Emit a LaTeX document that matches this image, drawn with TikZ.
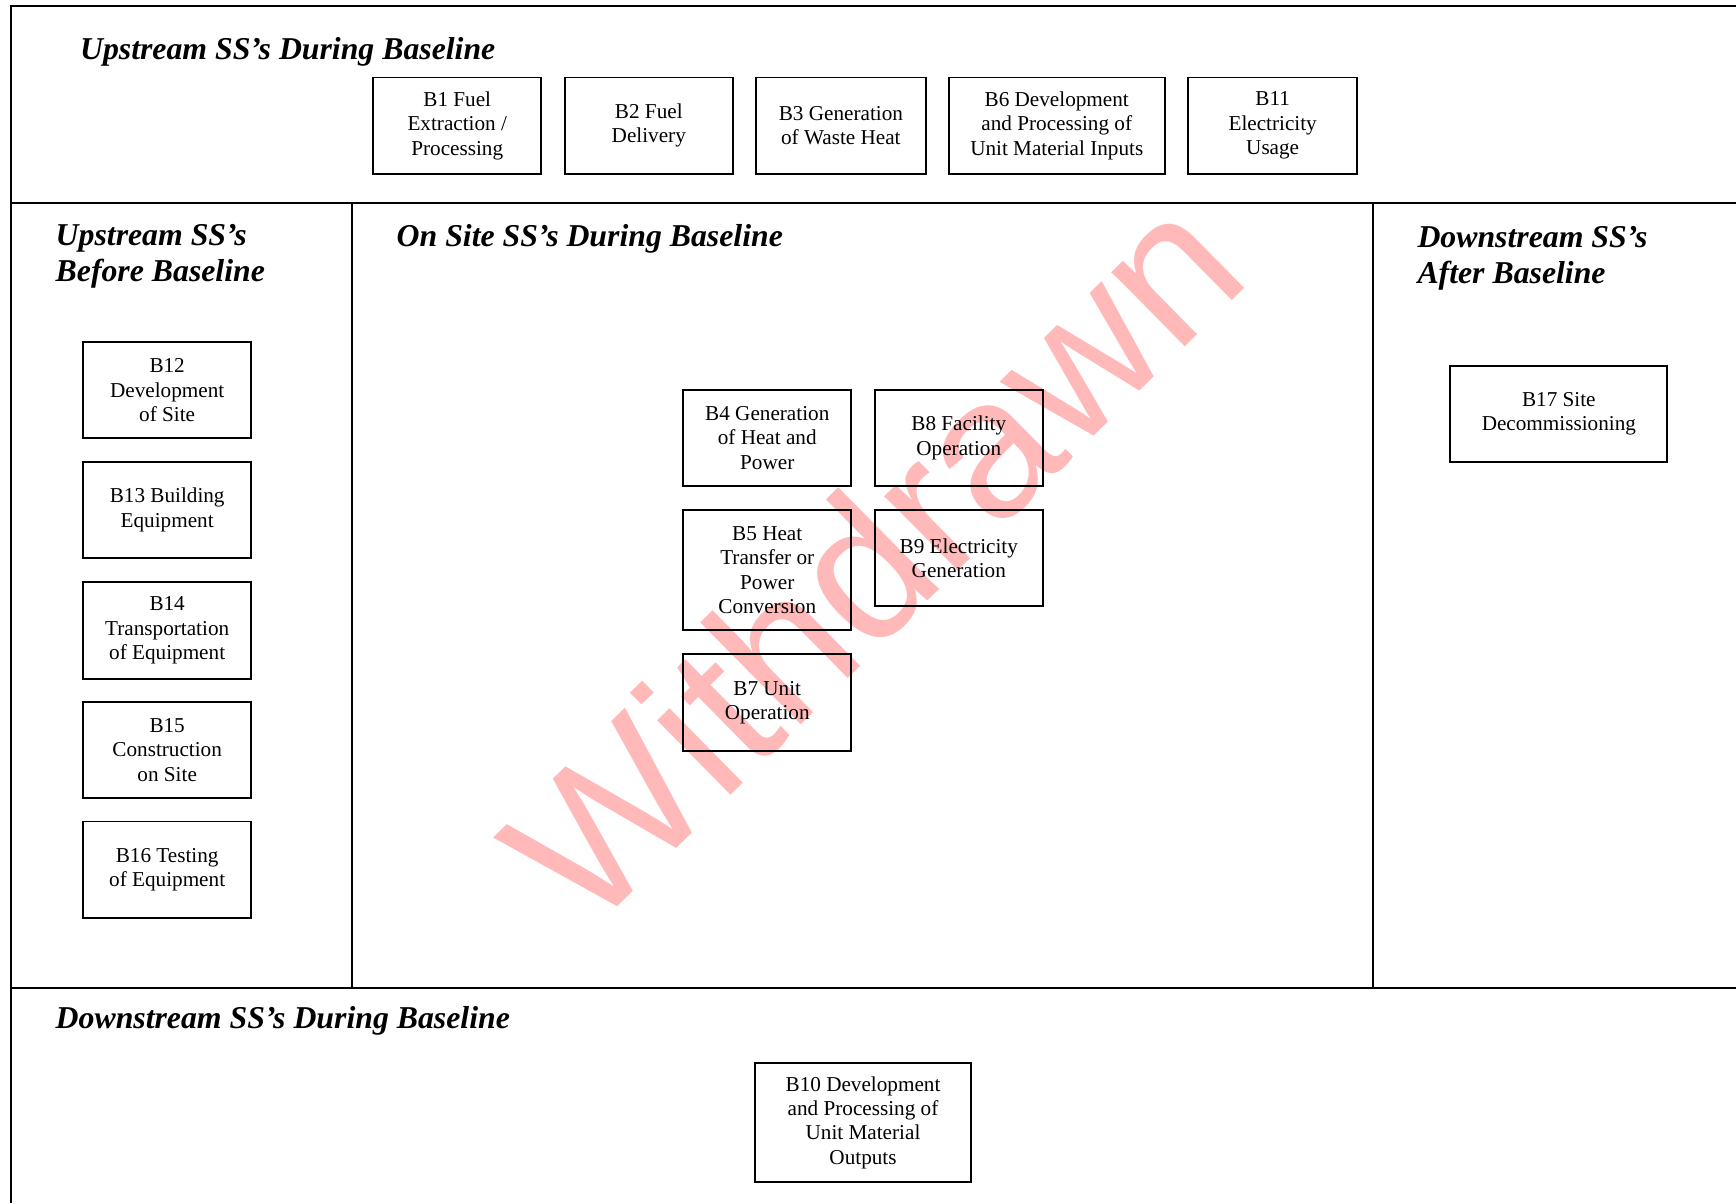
\documentclass[tikz,border=0pt]{standalone}
\usepackage{fontspec}
\setmainfont{Liberation Serif}
\setsansfont{Liberation Sans}
\definecolor{wm}{RGB}{255,185,185}
\def\u{0.627pt}
\tikzset{
  bbox/.style={draw, line width=1.1pt, align=center, inner sep=0pt,
    font=\fontsize{12}{13.8}\selectfont},
  ttl/.style={anchor=base west, inner sep=0pt, align=left,
    font=\fontsize{18}{20.9}\selectfont\bfseries\itshape},
  frame/.style={line width=1.1pt},
  thin/.style={line width=0.8pt}
}
\begin{document}
\begin{tikzpicture}[x=0.627pt, y=-0.627pt]
\useasboundingbox (0,0) rectangle (1568,1087);
% frame lines
\draw[frame] (1568,5) -- (10,5) -- (10,1087);
\draw[frame] (10,183) -- (1568,183);
\draw[thin] (318,183) -- (318,892);
\draw[frame] (1240,183) -- (1240,892);
\draw[frame] (10,892) -- (1568,892);
% watermark
\node[rotate=44.6, text=wm, inner sep=0pt, font=\sffamily\fontsize{112}{112}\selectfont] (wmark) at (787,503) {Withdrawn};
% titles
\node[ttl] (t1) at (72,54) {Upstream SS's During Baseline};
\node[ttl] (t2) at (50,254.5) {Upstream SS's\\[-0.5pt]Before Baseline};
\node[ttl] (t3) at (358,223) {On Site SS's During Baseline};
\node[ttl] (t4) at (1280,256) {Downstream SS's\\[-0.5pt]After Baseline};
\node[ttl] (t5) at (50,929) {Downstream SS's During Baseline};
% top row
\node[bbox, minimum width=152*\u, minimum height=87*\u] (b1) at (413,113.5) {B1 Fuel\\Extraction /\\Processing};
\node[bbox, minimum width=152*\u, minimum height=87*\u] (b2) at (586,113.5) {B2 Fuel\\Delivery};
\node[bbox, minimum width=153*\u, minimum height=87*\u] (b3) at (759.5,113.5) {B3 Generation\\of Waste Heat};
\node[bbox, minimum width=195*\u, minimum height=87*\u] (b6) at (954.5,113.5) {B6 Development\\and Processing of\\Unit Material Inputs};
\node[bbox, minimum width=153*\u, minimum height=87*\u] (b11) at (1149.5,113.5) {B11\\Electricity\\Usage};
% left column
\node[bbox, minimum width=152*\u, minimum height=87*\u] (b12) at (151,352.5) {B12\\Development\\of Site};
\node[bbox, minimum width=152*\u, minimum height=87*\u] (b13) at (151,460.5) {B13 Building\\Equipment};
\node[bbox, minimum width=152*\u, minimum height=87*\u] (b14) at (151,569.5) {B14\\Transportation\\of Equipment};
\node[bbox, minimum width=152*\u, minimum height=87*\u] (b15) at (151,677.5) {B15\\Construction\\on Site};
\node[bbox, minimum width=152*\u, minimum height=87*\u] (b16) at (151,785.5) {B16 Testing\\of Equipment};
% center
\node[bbox, minimum width=152*\u, minimum height=87*\u] (b4) at (693,395.5) {B4 Generation\\of Heat and\\Power};
\node[bbox, minimum width=152*\u, minimum height=87*\u] (b8) at (866,395.5) {B8 Facility\\Operation};
\node[bbox, minimum width=152*\u, minimum height=108*\u] (b5) at (693,515) {B5 Heat\\Transfer or\\Power\\Conversion};
\node[bbox, minimum width=152*\u, minimum height=86*\u] (b9) at (866,504) {B9 Electricity\\Generation};
\node[bbox, minimum width=152*\u, minimum height=87*\u] (b7) at (693,634.5) {B7 Unit\\Operation};
% right
\node[bbox, minimum width=196*\u, minimum height=86*\u] (b17) at (1408,374) {B17 Site\\Decommissioning};
% bottom
\node[bbox, minimum width=195*\u, minimum height=108*\u] (b10) at (779.5,1014) {B10 Development\\and Processing of\\Unit Material\\Outputs};
\end{tikzpicture}
\end{document}
